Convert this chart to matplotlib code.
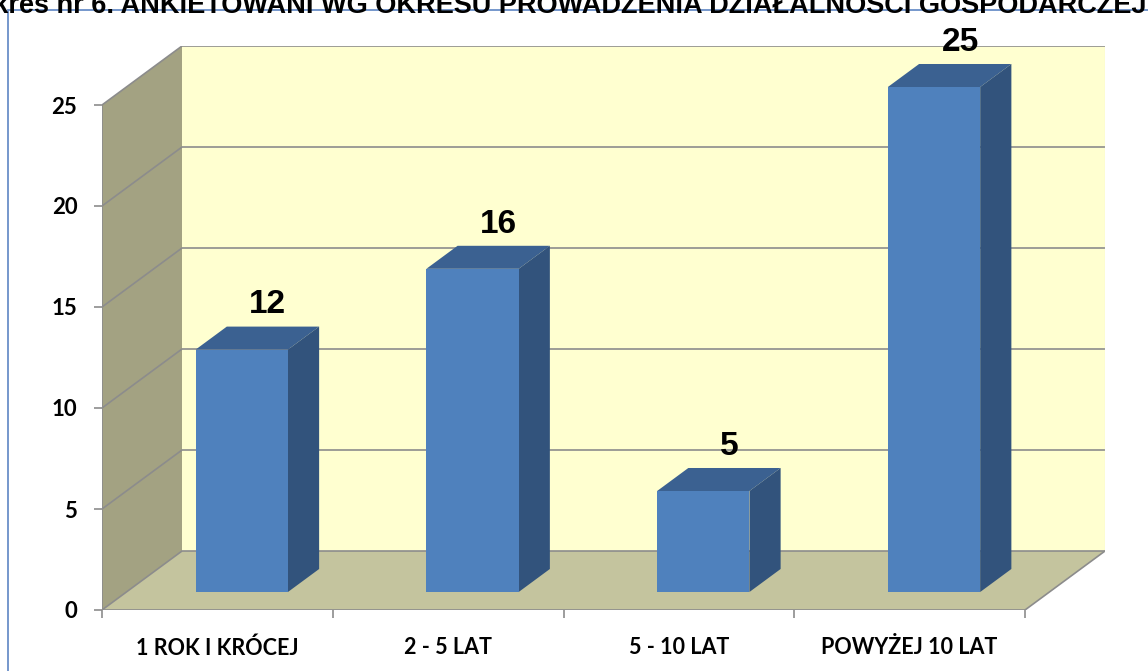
import numpy as np
import matplotlib
matplotlib.use('Agg')
import matplotlib.pyplot as plt
from matplotlib.patches import Polygon, Rectangle

# dane
kategorie = ['1 ROK I KRÓCEJ', '2 - 5 LAT', '5 - 10 LAT', 'POWYŻEJ 10 LAT']
wartosci = [12, 16, 5, 25]
y_ticks = [0, 5, 10, 15, 20, 25]
tytul = 'Wykres nr 6. ANKIETOWANI WG OKRESU PROWADZENIA DZIAŁALNOŚCI GOSPODARCZEJ'

W, H = 1148, 671
fig = plt.figure(figsize=(W / 100, H / 100), dpi=100)

# pseudo-3D: przesuniecie glebokosci w jednostkach danych
DX = 80 / 230.75
DY = 59 / 20.2
ymax = 25
n = len(kategorie)
x0, x1 = -0.5, n - 0.5

# os w pikselach
left_px, bottom_px = 102, 610
px_x = 230.75
px_y = 20.2
ax_w = (x1 + DX - x0) * px_x
ax_h = (ymax + DY) * px_y
ax = fig.add_axes([left_px / W, (H - bottom_px) / H, ax_w / W, ax_h / H])
ax.set_xlim(x0, x1 + DX)
ax.set_ylim(0, ymax + DY)
for s in ax.spines.values():
    s.set_visible(False)
ax.patch.set_visible(False)

wall_left = '#A3A282'
wall_back = '#FFFFD0'
floor_c = '#C4C49E'
edge_c = '#8C8C8C'
lw = 1.2

# sciany i podloga
ax.add_patch(Polygon([(x0 + DX, DY), (x1 + DX, DY), (x1 + DX, ymax + DY), (x0 + DX, ymax + DY)],
                     closed=True, fc=wall_back, ec='none', zorder=1))
ax.add_patch(Polygon([(x0, 0), (x0 + DX, DY), (x0 + DX, ymax + DY), (x0, ymax)],
                     closed=True, fc=wall_left, ec='none', zorder=1))
ax.add_patch(Polygon([(x0, 0), (x1, 0), (x1 + DX, DY), (x0 + DX, DY)],
                     closed=True, fc=floor_c, ec='none', zorder=1))

# linie siatki
for v in y_ticks:
    ax.plot([x0, x0 + DX, x1 + DX], [v, v + DY, v + DY], color=edge_c, lw=lw, zorder=2,
            solid_capstyle='butt')
ax.plot([x0, x1, x1 + DX], [0, 0, DY], color=edge_c, lw=lw, zorder=2)
ax.plot([x0, x0], [0, ymax], color=edge_c, lw=lw, zorder=2)
ax.plot([x1 + DX, x1 + DX], [DY, ymax + DY], color='#E0E0C8', lw=0.8, zorder=2)

# slupki
d0, d1 = 0.305, 0.695
bw = 0.4
front_c = '#4F81BD'
top_c = '#3B6191'
side_c = '#32537C'
pos = np.arange(n)
xf = pos + d0 * DX
yb = d0 * DY
ax.bar(xf, wartosci, width=bw, bottom=yb, color=front_c, zorder=5)
wd = d1 - d0
for xc, v in zip(xf, wartosci):
    xl, xr = xc - bw / 2, xc + bw / 2
    top = [(xl, yb + v), (xr, yb + v), (xr + wd * DX, yb + v + wd * DY), (xl + wd * DX, yb + v + wd * DY)]
    side = [(xr, yb), (xr, yb + v), (xr + wd * DX, yb + v + wd * DY), (xr + wd * DX, yb + wd * DY)]
    ax.add_patch(Polygon(top, closed=True, fc=top_c, ec='none', zorder=4))
    ax.add_patch(Polygon(side, closed=True, fc=side_c, ec='none', zorder=4))

# etykiety danych
for p, v in zip(pos, wartosci):
    ax.annotate(str(v), xy=(p + 0.63 * DX, v + d1 * DY), xytext=(0, 9.5), textcoords='offset points',
                ha='center', va='baseline', fontsize=24, fontweight='bold',
                family='Liberation Sans', zorder=6)

# osie
ax.set_yticks(y_ticks)
ax.set_yticklabels([str(t) for t in y_ticks], fontsize=16, fontweight='bold', family='Lato')
ax.tick_params(axis='y', length=5.8, width=1.2, color=edge_c, pad=12)
ax.set_xticks(np.arange(n + 1) - 0.5)
ax.set_xticklabels([])
ax.set_xticks(pos, minor=True)
ax.set_xticklabels(kategorie, minor=True, fontsize=15.5, fontweight='bold', family='Lato')
ax.tick_params(axis='x', which='major', length=5.8, width=1.2, color=edge_c)
ax.tick_params(axis='x', which='minor', length=0, pad=19.5)

# ramka i tytul (w oryginale obciety u gory)
fig.add_artist(Rectangle((8 / W, -0.05), 1.1, (H - 10) / H + 0.05, transform=fig.transFigure,
                         fill=False, ec='#6A8FC8', lw=1.3))
fig.text(-47 / W, (H - 13) / H, tytul, ha='left', va='baseline', fontsize=19.5,
         fontweight='bold', family='Liberation Sans')

fig.savefig('out.png', dpi=100)
